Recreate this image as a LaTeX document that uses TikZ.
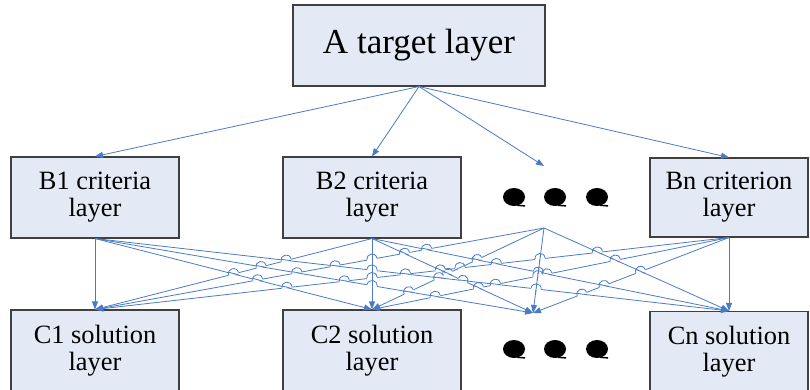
\documentclass[tikz,border=0pt]{standalone}
\usepackage{fontspec}
\setmainfont{Liberation Serif}
\newfontfamily\boxfont{Liberation Serif}
\usetikzlibrary{arrows.meta,calc}
\definecolor{boxfill}{HTML}{E4EAF5}
\definecolor{boxline}{HTML}{404040}
\definecolor{linkcol}{HTML}{4A7CC6}
\tikzset{
  layerbox/.style={draw=boxline, fill=boxfill, line width=0.8pt, inner sep=0pt, align=center,
    font=\boxfont\fontsize{19.8}{20.3}\selectfont},
  link/.style={draw=linkcol, line width=0.6pt, -{Triangle[length=6pt,width=4.5pt]}},
  hopline/.style={draw=linkcol, line width=0.6pt},
  dotmark/.style={fill=black},
}
\def\SX{{0.95,3.72,5.44,7.29}}
\def\SY{{2.38,2.38,2.28,2.37}}
\def\TX{{0.95,3.72,5.33,7.29}}
\def\TY{{3.09,3.09,3.13,3.11}}
\newcommand\hopcheck[4]{%
 \pgfmathsetmacro\hAx{\SX[#1-1]}%
 \pgfmathsetmacro\hAy{\SY[#1-1]}%
 \pgfmathsetmacro\hBx{\TX[#2-1]}%
 \pgfmathsetmacro\hBy{\TY[#2-1]}%
 \pgfmathsetmacro\hCx{\SX[#3-1]}%
 \pgfmathsetmacro\hCy{\SY[#3-1]}%
 \pgfmathsetmacro\hDx{\TX[#4-1]}%
 \pgfmathsetmacro\hDy{\TY[#4-1]}%
 \pgfmathsetmacro\hex{\hBx-\hAx}\pgfmathsetmacro\hey{\hBy-\hAy}%
 \pgfmathsetmacro\hfx{\hDx-\hCx}\pgfmathsetmacro\hfy{\hDy-\hCy}%
 \pgfmathsetmacro\hden{\hex*\hfy-\hey*\hfx}%
 \pgfmathsetmacro\hadn{abs(\hden)}%
 \ifdim\hadn pt>0.0005pt
  \pgfmathsetmacro\hwx{\hCx-\hAx}\pgfmathsetmacro\hwy{\hCy-\hAy}%
  \pgfmathsetmacro\hT{(\hwx*\hfy-\hwy*\hfx)/\hden}%
  \pgfmathsetmacro\hS{(\hwx*\hey-\hwy*\hex)/\hden}%
  \pgfmathtruncatemacro\hhit{(\hT>0.01)&&(\hT<0.99)&&(\hS>0.01)&&(\hS<0.99)}%
  \ifnum\hhit=1
    \pgfmathsetmacro\hPx{100*(\hAx+\hT*\hex)}%
    \pgfmathsetmacro\hPy{100*(\hAy+\hT*\hey)}%
    \pgfmathtruncatemacro\hia{#1==#2 ? 0 : 4*#1+#2}%
    \pgfmathtruncatemacro\hib{#3==#4 ? 0 : 4*#3+#4}%
    \ifnum\hib>\hia
      \let\hux\hfx\let\huy\hfy\let\hvx\hex\let\hvy\hey
    \else
      \let\hux\hex\let\huy\hey\let\hvx\hfx\let\hvy\hfy
    \fi
    \pgfmathsetmacro\hlu{sqrt(\hux*\hux+\huy*\huy)}%
    \pgfmathsetmacro\hsg{\hux<0 ? -1 : 1}%
    \pgfmathsetmacro\hUx{\hsg*\hux/\hlu}%
    \pgfmathsetmacro\hUy{\hsg*\huy/\hlu}%
    \pgfmathsetmacro\hlv{sqrt(\hvx*\hvx+\hvy*\hvy)}%
    \pgfmathsetmacro\hVx{\hvx/\hlv}\pgfmathsetmacro\hVy{\hvy/\hlv}%
    \draw[white,line width=1.8pt] ({\hPx-5*\hUx},{\hPy-5*\hUy}) -- ({\hPx+5*\hUx},{\hPy+5*\hUy});
    \draw[hopline] ({\hPx-5*\hVx},{\hPy-5*\hVy}) -- ({\hPx+5*\hVx},{\hPy+5*\hVy});
    \draw[hopline] ({\hPx-5*\hUx},{\hPy-5*\hUy}) .. controls ({\hPx-5*\hUx+6.67*\hUy},{\hPy-5*\hUy-6.67*\hUx}) and ({\hPx+5*\hUx+6.67*\hUy},{\hPy+5*\hUy-6.67*\hUx}) .. ({\hPx+5*\hUx},{\hPy+5*\hUy});
  \fi
 \fi}
\newcommand\dotglyph[2]{%
  \fill[dotmark] (#1,#2) ellipse [x radius=11, y radius=9];
  \draw[line width=1.1pt] (#1+3,#2+8.3) -- (#1+11,#2+8.9);}
\begin{document}
\begin{tikzpicture}[x=0.75pt,y=-0.75pt]
\useasboundingbox (0,0) rectangle (810,389);
\clip (0,0) rectangle (810,389);
\fill[white] (0,0) rectangle (810,389);
% boxes
\node[layerbox, minimum width=189pt, minimum height=60.75pt, font=\boxfont\fontsize{26.3}{28}\selectfont] (A) at (419,45.5) {A target layer};
\node[layerbox, minimum width=126pt, minimum height=60.75pt] (B1) at (95,197.5) {B1 criteria\\layer};
\node[layerbox, minimum width=133.5pt, minimum height=60.75pt] (B2) at (372,197.5) {B2 criteria\\layer};
\node[layerbox, minimum width=118.5pt, minimum height=59.25pt] (Bn) at (729,197.5) {Bn criterion\\layer};
\node[layerbox, minimum width=126pt, minimum height=60.75pt] (C1) at (95,350.5) {C1 solution\\layer};
\node[layerbox, minimum width=133.5pt, minimum height=60.75pt] (C2) at (372,350.5) {C2 solution\\layer};
\node[layerbox, minimum width=118.5pt, minimum height=60.75pt] (Cn) at (729,352) {Cn solution\\layer};
% ellipsis dots
\dotglyph{514}{197}\dotglyph{555}{197}\dotglyph{597}{197}
\dotglyph{514}{349}\dotglyph{555}{349}\dotglyph{597}{349}
% connector end points
\coordinate (Mtop) at (544,166);
\coordinate (S1) at (B1.south);
\coordinate (S2) at (B2.south);
\coordinate (S3) at (544,228);
\coordinate (S4) at (Bn.south);
\coordinate (T1) at (C1.north);
\coordinate (T2) at (C2.north);
\coordinate (T3) at (533,313);
\coordinate (T4) at (Cn.north);
% top connectors
\draw[link] (A.south) -- (B1.north);
\draw[link] (A.south) -- (B2.north);
\draw[link] (A.south) -- (Mtop);
\draw[link] (A.south) -- (Bn.north);
% lower connectors
\foreach \i in {1,...,4}{\foreach \j in {1,...,4}{\draw[link] (S\i) -- (T\j);}}
% line hops
\foreach \a in {1,...,4}{\foreach \b in {1,...,4}{\foreach \c in {1,...,4}{\foreach \d in {1,...,4}{%
  \ifnum\a<\c\relax\ifnum\b=\d\relax\else\hopcheck{\a}{\b}{\c}{\d}\fi\fi}}}}
\end{tikzpicture}
\end{document}
